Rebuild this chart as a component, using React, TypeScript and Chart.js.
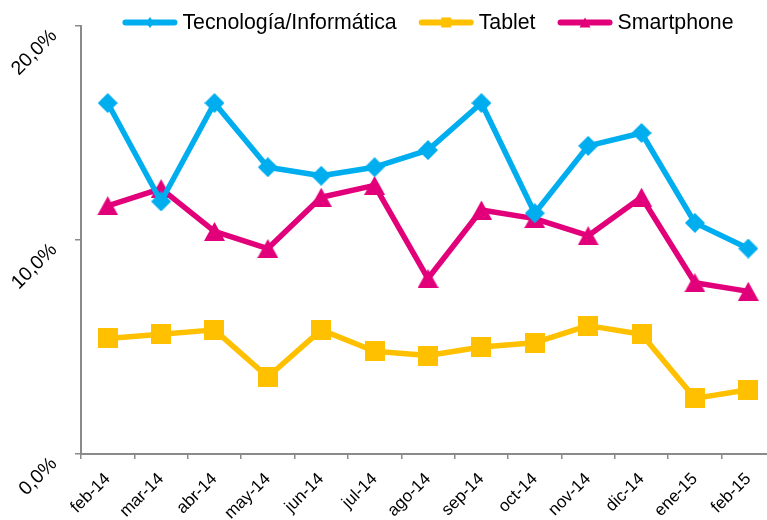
import React, { useEffect, useRef } from 'react';
import { Chart, registerables } from 'chart.js';

Chart.register(...registerables);

const categories = ['feb-14', 'mar-14', 'abr-14', 'may-14', 'jun-14', 'jul-14', 'ago-14', 'sep-14', 'oct-14', 'nov-14', 'dic-14', 'ene-15', 'feb-15'];
const tecnologia = [16.4, 11.8, 16.4, 13.4, 13.0, 13.4, 14.2, 16.4, 11.25, 14.4, 15.0, 10.8, 9.6];
const tablet = [5.4, 5.6, 5.8, 3.6, 5.8, 4.8, 4.6, 5.0, 5.2, 6.0, 5.6, 2.6, 3.0];
const smartphone = [11.6, 12.4, 10.4, 9.6, 12.0, 12.55, 8.2, 11.4, 11.0, 10.2, 12.0, 8.0, 7.6];
const seriesNames = ['Tecnología/Informática', 'Tablet', 'Smartphone'];
const yTickValues = [0, 10, 20];
const yTickLabels = ['0,0%', '10,0%', '20,0%'];

const CYAN = '#00AEEF';
const YELLOW = '#FFC000';
const MAGENTA = '#E2007A';
const AXIS = '#8a8a8a';
const FONT = '"Liberation Sans", Arial, Helvetica, sans-serif';

type Shape = 'diamond' | 'square' | 'triangle';

function shapePath(ctx: CanvasRenderingContext2D, shape: Shape, cx: number, cy: number, w: number, h: number) {
  ctx.beginPath();
  if (shape === 'diamond') {
    ctx.moveTo(cx, cy - h / 2);
    ctx.lineTo(cx + w / 2, cy);
    ctx.lineTo(cx, cy + h / 2);
    ctx.lineTo(cx - w / 2, cy);
  } else if (shape === 'square') {
    ctx.rect(cx - w / 2, cy - h / 2, w, h);
  } else {
    ctx.moveTo(cx, cy - h / 2);
    ctx.lineTo(cx + w / 2, cy + h / 2);
    ctx.lineTo(cx - w / 2, cy + h / 2);
  }
  ctx.closePath();
}

function makeMarker(shape: Shape, color: string, w: number, h: number): HTMLCanvasElement {
  const c = document.createElement('canvas');
  c.width = w;
  c.height = h;
  const ctx = c.getContext('2d')!;
  ctx.fillStyle = color;
  shapePath(ctx, shape, w / 2, h / 2, w, h);
  ctx.fill();
  return c;
}

const legendInfo: { shape: Shape; color: string; mw: number; mh: number }[] = [
  { shape: 'diamond', color: CYAN, mw: 8, mh: 11 },
  { shape: 'square', color: YELLOW, mw: 10, mh: 10 },
  { shape: 'triangle', color: MAGENTA, mw: 11, mh: 10 },
];

const legendPlugin = {
  id: 'customLegend',
  afterDraw(chart: any) {
    const ctx: CanvasRenderingContext2D = chart.ctx;
    ctx.save();
    ctx.font = `21.3px ${FONT}`;
    const lineLen = 55;
    const gap = 5;
    const spacing = 22;
    const labels: string[] = chart.data.datasets.map((d: any) => d.label);
    const widths = labels.map((l) => lineLen + gap + ctx.measureText(l).width);
    const total = widths.reduce((a, b) => a + b, 0) + spacing * (labels.length - 1);
    let x = (chart.chartArea.left + chart.chartArea.right) / 2 - total / 2;
    const y = 22.5;
    labels.forEach((label, i) => {
      const info = legendInfo[i];
      ctx.strokeStyle = info.color;
      ctx.lineWidth = 6;
      ctx.lineCap = 'round';
      ctx.beginPath();
      ctx.moveTo(x + 3, y);
      ctx.lineTo(x + lineLen - 3, y);
      ctx.stroke();
      ctx.fillStyle = info.color;
      shapePath(ctx, info.shape, x + lineLen / 2, y, info.mw, info.mh);
      ctx.fill();
      ctx.fillStyle = '#000';
      ctx.textBaseline = 'alphabetic';
      ctx.textAlign = 'left';
      ctx.fillText(label, x + lineLen + gap, y + 6);
      x += widths[i] + spacing;
    });
    ctx.restore();
  },
};

export default function App() {
  const ref = useRef<HTMLCanvasElement | null>(null);

  useEffect(() => {
    if (!ref.current) return;
    const mk = (label: string, data: number[], color: string, img: HTMLCanvasElement) => ({
      label,
      data,
      borderColor: color,
      backgroundColor: color,
      borderWidth: 5.5,
      borderJoinStyle: 'round' as const,
      pointStyle: img,
      pointRadius: 10,
      pointBorderWidth: 0,
      tension: 0,
    });
    const chart = new Chart(ref.current, {
      type: 'line',
      data: {
        labels: categories,
        datasets: [
          mk(seriesNames[0], tecnologia, CYAN, makeMarker('diamond', CYAN, 20, 20)),
          mk(seriesNames[1], tablet, YELLOW, makeMarker('square', YELLOW, 20, 20)),
          mk(seriesNames[2], smartphone, MAGENTA, makeMarker('triangle', MAGENTA, 21, 19)),
        ],
      },
      options: {
        responsive: false,
        animation: false,
        events: [],
        layout: { padding: { top: 26, right: 0.5, bottom: 0, left: 0 } },
        plugins: {
          legend: { display: false },
          tooltip: { enabled: false },
        },
        scales: {
          x: {
            type: 'category',
            offset: true,
            grid: {
              offset: true,
              drawOnChartArea: false,
              drawTicks: true,
              tickLength: 5,
              color: AXIS,
              lineWidth: 1.5,
            },
            border: { display: true, color: AXIS, width: 2 },
            ticks: {
              autoSkip: false,
              minRotation: 45,
              maxRotation: 45,
              padding: 10,
              color: '#000',
              font: { family: FONT, size: 17 },
            },
            afterFit: (scale: any) => {
              scale.height = 66;
              scale.paddingLeft = 0;
              scale.paddingRight = 0;
            },
          },
          y: {
            min: 0,
            max: 20,
            afterBuildTicks: (scale: any) => {
              scale.ticks = yTickValues.map((v) => ({ value: v }));
            },
            grid: {
              drawOnChartArea: false,
              drawTicks: true,
              tickLength: 6,
              color: AXIS,
              lineWidth: 1.5,
            },
            border: { display: true, color: AXIS, width: 2 },
            ticks: {
              minRotation: 45,
              maxRotation: 45,
              padding: 21,
              labelOffset: 7,
              color: '#000',
              font: { family: FONT, size: 19.5 },
              callback: (value: any) => {
                const idx = yTickValues.indexOf(Number(value));
                return idx >= 0 ? yTickLabels[idx] : '';
              },
            },
            afterFit: (scale: any) => {
              scale.width = 81;
              scale.paddingTop = 0;
              scale.paddingBottom = 0;
            },
          },
        },
      },
      plugins: [legendPlugin],
    });
    return () => chart.destroy();
  }, []);

  return (
    <div style={{ position: 'fixed', left: 0, top: 0, width: 767, height: 520, overflow: 'hidden', background: '#fff' }}>
      <div style={{ width: 785, height: 520 }}>
        <canvas ref={ref} width={785} height={520} style={{ display: 'block' }} />
      </div>
    </div>
  );
}
